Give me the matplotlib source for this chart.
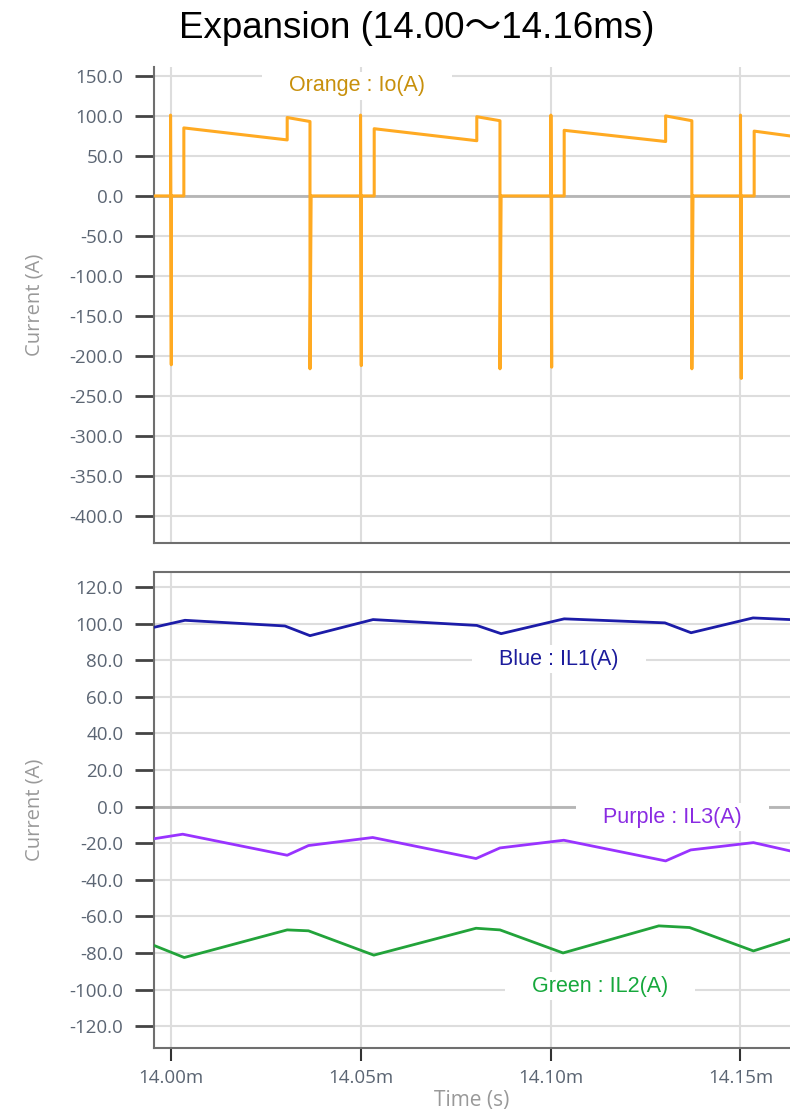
import matplotlib.pyplot as plt
from matplotlib.ticker import FuncFormatter, MultipleLocator

# time axis in ms
t_io = [13.9957, 14.0000, 14.0000, 14.0002, 14.0002, 14.0035, 14.0035, 14.0307, 14.0307, 14.0367,
        14.0367, 14.0370, 14.0500, 14.0500, 14.0502, 14.0502, 14.0536, 14.0536, 14.0806, 14.0806,
        14.0867, 14.0867, 14.0870, 14.1001, 14.1001, 14.1003, 14.1003, 14.1036, 14.1036, 14.1303,
        14.1303, 14.1372, 14.1372, 14.1375, 14.1500, 14.1500, 14.1502, 14.1502, 14.1536, 14.1536,
        14.1630]
io = [0, 0, 101, -211, 0, 0, 85, 70, 98, 93,
      -216, 0, 0, 101, -212, 0, 0, 84, 69, 99,
      94, -216, 0, 0, 101, -214, 0, 0, 82, 68,
      100, 94, -216, 0, 0, 101, -228, 0, 0, 81,
      75]

t_il1 = [13.9957, 14.0038, 14.0301, 14.0367, 14.0533, 14.0806, 14.0870, 14.1036, 14.1301, 14.1370, 14.1533, 14.1630]
il1 = [98.0, 101.8, 98.7, 93.4, 102.2, 99.0, 94.5, 102.6, 100.4, 95.0, 103.1, 102.2]

t_il3 = [13.9959, 14.0032, 14.0307, 14.0363, 14.0532, 14.0804, 14.0867, 14.1035, 14.1303, 14.1369, 14.1534, 14.1630]
il3 = [-17.5, -15.1, -26.6, -21.3, -16.9, -28.4, -22.6, -18.4, -29.7, -23.7, -19.7, -24.2]

t_il2 = [13.9959, 14.0036, 14.0307, 14.0363, 14.0535, 14.0804, 14.0867, 14.1033, 14.1285, 14.1366, 14.1534, 14.1630]
il2 = [-76.1, -82.5, -67.4, -67.9, -81.2, -66.5, -67.4, -80.0, -65.2, -66.1, -78.9, -72.5]

x_ticks = [14.00, 14.05, 14.10, 14.15]

tick_gray = '#5b6573'
label_gray = '#999999'
tick_font = 'Open Sans'

fig = plt.figure(figsize=(7.9, 11.15), dpi=100)
fig.text(0.527, 0.974, 'Expansion (14.00\uff5e14.16ms)', ha='center', va='center',
         fontsize=26.5, family=['Liberation Sans', 'Noto Sans CJK JP'])

ax1 = fig.add_axes([0.195, 0.513, 0.805, 0.427])
ax2 = fig.add_axes([0.195, 0.060, 0.805, 0.427])


def style(ax):
    ax.spines['right'].set_visible(False)
    for s in ['left', 'bottom', 'top']:
        ax.spines[s].set_color('#6f6f6f')
        ax.spines[s].set_linewidth(1.5)
    ax.set_xlim(13.99566, 14.16303)
    ax.set_xticks(x_ticks)
    ax.grid(True, color='#dddddd', linewidth=1.5)
    ax.set_axisbelow(True)
    ax.tick_params(axis='y', length=14, width=2, color='#444444', labelcolor=tick_gray,
                   labelsize=13.5, pad=8)
    ax.tick_params(axis='x', length=9, width=1.5, color='#333333', labelcolor=tick_gray,
                   labelsize=13.5, pad=6)
    for lab in ax.get_yticklabels() + ax.get_xticklabels():
        lab.set_family(tick_font)
    ax.set_ylabel('Current (A)', color=label_gray, fontsize=14.5, family=tick_font)
    ax.yaxis.set_major_formatter(FuncFormatter(lambda v, p: '%.1f' % v))


# top panel: output current
style(ax1)
ax1.spines['top'].set_visible(False)
ax1.set_ylim(-433.75, 161.25)
ax1.yaxis.set_major_locator(MultipleLocator(50))
ax1.tick_params(axis='x', length=0, labelbottom=False)
ax1.axhline(0, color='#b5b5b5', linewidth=2, zorder=1)
ax1.plot(t_io, io, color='#ffaa22', linewidth=2.2, zorder=3)

box = dict(fc='white', ec='none', boxstyle='square,pad=0.15')
ax1.text(14.0491, 137.5, '    Orange : Io(A)    ', color='#c8900c', fontsize=15.5, ha='center', va='center',
         family='Liberation Sans', bbox=box, zorder=2)

# bottom panel: inductor currents
style(ax2)
ax2.set_ylim(-132.0, 128.2)
ax2.yaxis.set_major_locator(MultipleLocator(20))
ax2.xaxis.set_major_formatter(FuncFormatter(lambda v, p: '%.2fm' % v))
ax2.axhline(0, color='#b5b5b5', linewidth=2, zorder=1)
ax2.plot(t_il1, il1, color='#1c1ca8', linewidth=2, zorder=3)
ax2.plot(t_il3, il3, color='#9933ff', linewidth=2, zorder=3)
ax2.plot(t_il2, il2, color='#22a33a', linewidth=2, zorder=3)
ax2.set_xlabel('Time (s)', color=label_gray, fontsize=15, family=tick_font, labelpad=2)

ax2.text(14.1022, 80.6, '    Blue : IL1(A)    ', color='#1c1c9c', fontsize=15.5, ha='center', va='center',
         family='Liberation Sans', bbox=box, zorder=2)
ax2.text(14.1322, -5.7, '    Purple : IL3(A)    ', color='#8a2be2', fontsize=15.5, ha='center', va='center',
         family='Liberation Sans', bbox=box, zorder=2)
ax2.text(14.1130, -98.1, '    Green : IL2(A)    ', color='#16a83c', fontsize=15.5, ha='center', va='center',
         family='Liberation Sans', bbox=box, zorder=2)

for ax in (ax1, ax2):
    ax.yaxis.set_label_coords(-0.172, 0.5)

fig.savefig('out.png', dpi=100)
